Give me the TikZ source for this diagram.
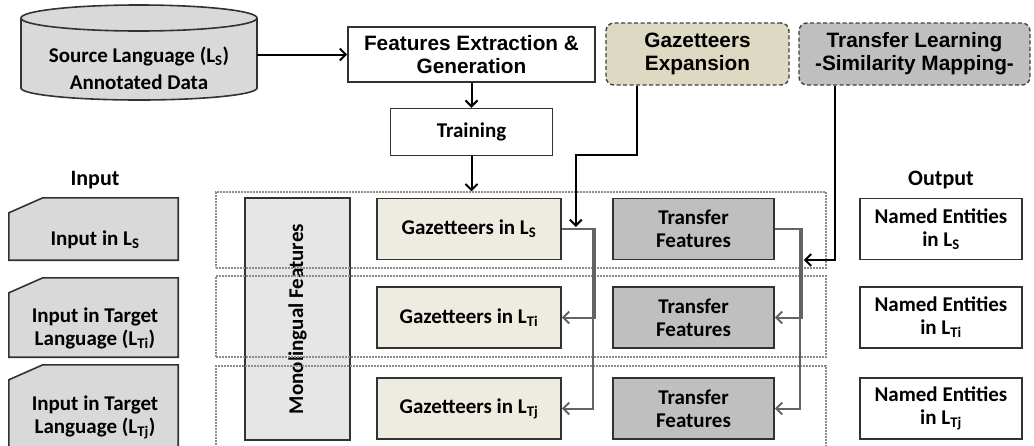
\documentclass[tikz,border=0pt]{standalone}
\usepackage{fontspec}
\setmainfont{Carlito}
\newfontfamily\arialfont{Liberation Sans}
\usepackage{tikz}
\usetikzlibrary{positioning,arrows.meta}
\definecolor{boxgray}{RGB}{217,217,217}
\definecolor{monogray}{RGB}{230,230,230}
\definecolor{gazbeige}{RGB}{238,236,225}
\definecolor{expbeige}{RGB}{221,217,195}
\definecolor{tfgray}{RGB}{191,191,191}
\definecolor{edgegray}{RGB}{50,50,50}
\definecolor{linkgray}{RGB}{100,100,100}
\newcommand{\ls}[1]{L\textsubscript{#1}}

\tikzset{
  txt/.style={font=\bfseries\fontsize{21}{23}\selectfont,align=center},
  atxt/.style={font=\arialfont\bfseries\fontsize{20.8}{23}\selectfont,align=center},
  box/.style={draw=edgegray,line width=1.6pt,txt,inner sep=0pt},
  dbox/.style={draw=black!75,dash pattern=on 4pt off 2.5pt,line width=1.4pt,
    rounded corners=8pt,atxt,inner sep=0pt,minimum height=62pt},
  inbox/.style={inner sep=0pt,minimum width=169pt},
  inshape/.style={draw=edgegray,fill=boxgray,line width=1.6pt},
  rowbox/.style={draw=gray!90,dash pattern=on 2pt off 1pt,line width=1.2pt,
    minimum width=610pt,inner sep=0pt},
  arr/.style={-{Straight Barb[length=6pt,width=12pt]},line width=2pt},
  garr/.style={arr,draw=linkgray},
}

\begin{document}
\begin{tikzpicture}[x=1pt,y=-1pt]
  \path[use as bounding box,clip] (0,0) rectangle (1034,445);

  \filldraw[boxgray] (21,18) -- (21,88) arc(180:0:118 and 12) -- (257,18) arc(0:-180:118 and 13) -- cycle;
  \draw[edgegray,line width=1.6pt] (21,18) -- (21,88) arc(180:0:118 and 12) -- (257,18);
  \draw[edgegray,line width=1.6pt] (139,18) ellipse (118 and 13);
  \node[txt,font=\bfseries\fontsize{21}{27}\selectfont,minimum width=236pt,inner sep=0pt] (src) at (139,68)
    {Source Language (\ls{S})\\Annotated Data};

  \node[box,atxt,fill=white,minimum width=247pt,minimum height=55pt] (feat) at (471.5,54.5)
    {Features Extraction \&\\Generation};
  \node[box,fill=white,minimum width=162pt,minimum height=47pt,below=25pt of feat] (train) {Training};
  \node[dbox,fill=expbeige,minimum width=183pt] (gexp) at (697.5,54) {Gazetteers\\Expansion};
  \node[dbox,fill=tfgray,minimum width=231pt] (tlrn) at (914.5,54) {Transfer Learning\\-Similarity Mapping-};

  \node[txt,font=\bfseries\fontsize{22}{26}\selectfont] (inlbl) at (95,180) {Input};
  \node[txt,font=\bfseries\fontsize{22}{26}\selectfont] (outlbl) at (941,180) {Output};

  \node[inbox,minimum height=62pt] (in1) at (93.5,229) {};
  \node[inbox,minimum height=79pt] (in2) at (93.5,317.5) {};
  \node[inbox,minimum height=95pt] (in3) at (93.5,412.5) {};
  \foreach \n in {in1,in2,in3}
    \filldraw[inshape] ([yshift=-15pt]\n.north west) -- ([xshift=34pt]\n.north west) -- (\n.north east)
      -- (\n.south east) -- (\n.south west) -- cycle;
  \node[txt] (in1t) at (95,240) {Input in \ls{S}};
  \node[txt] (in2t) at (95,328) {Input in Target\\Language (\ls{Ti})};
  \node[txt] (in3t) at (95,417) {Input in Target\\Language (\ls{Tj})};

  \node[box,fill=monogray,minimum width=242pt,minimum height=105pt,rotate=90] (mono) at (297.5,319) {Monolingual Features};

  \foreach \i/\y/\s in {1/229/S,2/317.5/Ti,3/408.5/Tj} {
    \node[box,fill=gazbeige,minimum width=184pt,minimum height=61pt] (gaz\i) at (469,\y) {Gazetteers in \ls{\s}};
    \node[box,fill=tfgray,minimum width=161pt,minimum height=61pt] (tf\i) at (693.5,\y) {Transfer\\Features};
    \node[box,fill=white,minimum width=162pt,minimum height=61pt] (ne\i) at (941,\y) {Named Entities\\in \ls{\s}};
  }

  \node[rowbox,minimum height=76pt] (row1) at (521,230) {};
  \node[rowbox,minimum height=81pt] (row2) at (521,316.5) {};
  \node[rowbox,minimum height=104pt] (row3) at (521,418) {};

  \draw[arr] (src.east |- feat.west) -- (feat.west);
  \draw[arr] (feat) -- (train);
  \draw[arr] (train) -- (train.south |- row1.north);
  \draw[arr] ([xshift=-60.5pt]gexp.south) -- ++(0,69) -| ([xshift=14pt,yshift=2pt]gaz1.east);
  \draw[arr] ([xshift=-79.5pt]tlrn.south) |- ([xshift=29pt,yshift=-31pt]tf1.east);

  \draw[garr] (gaz1.east) -- ++(33,0) |- (gaz2.east);
  \draw[garr] (gaz1.east) -- ++(31,0) |- (gaz3.east);
  \draw[garr] (tf1.east) -- ++(27,0) |- (tf2.east);
  \draw[garr] (tf1.east) -- ++(25,0) |- (tf3.east);
\end{tikzpicture}
\end{document}
